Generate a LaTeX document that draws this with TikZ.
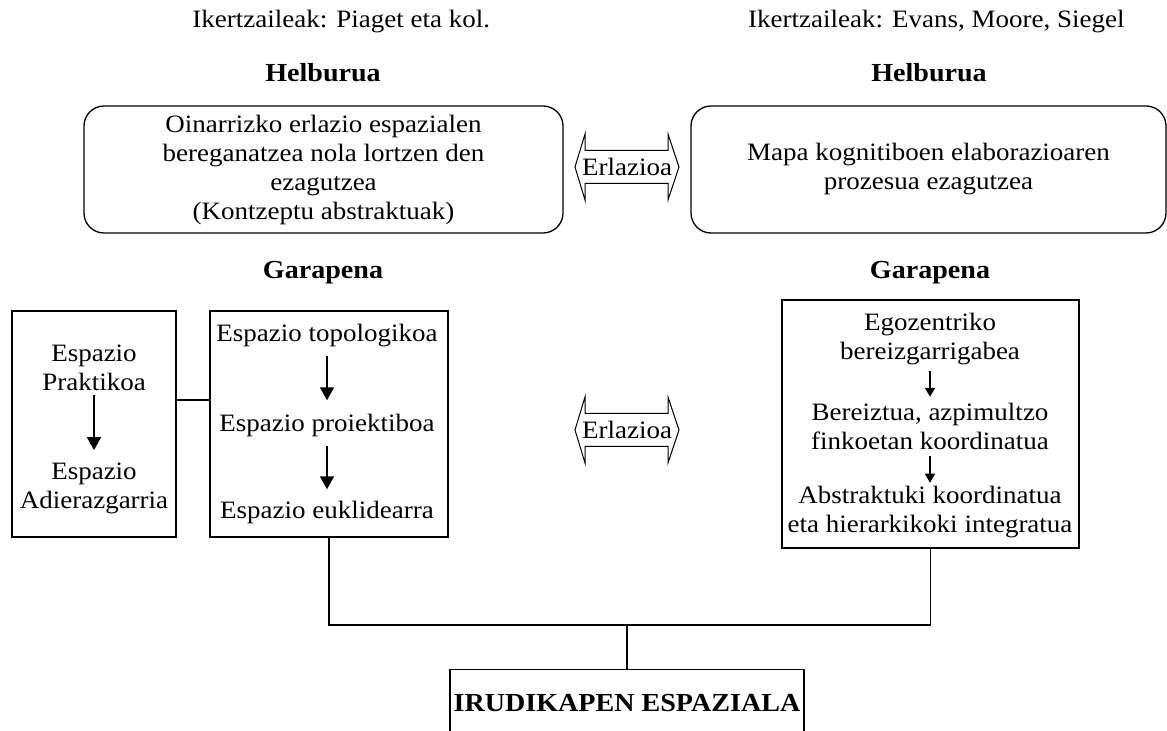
\documentclass[tikz,border=0pt]{standalone}
\usepackage{fontspec}
\setmainfont{Liberation Serif}[FakeStretch=1.08]
\usetikzlibrary{arrows.meta,calc}
\begin{document}
\begin{tikzpicture}[x=0.5pt,y=-0.5pt,
  txt/.style={font=\fontsize{12.5}{14.5}\selectfont, align=center, inner sep=0pt},
  head/.style={font=\fontsize{13}{15}\selectfont\bfseries, inner sep=0pt},
  rbox/.style={draw, line width=0.65pt, rounded corners=10pt, minimum height=63.5pt,
               font=\fontsize{12.5}{14.5}\selectfont, align=center, inner sep=0pt},
  sbox/.style={draw, line width=0.65pt, inner sep=0pt},
  conn/.style={line width=0.65pt},
  relarrow/.style={line width=0.5pt, line join=miter},
  arr/.style={line width=0.9pt, -{Triangle[width=7pt,length=6.5pt]}},
  sarr/.style={line width=0.8pt, -{Triangle[width=5pt,length=4.5pt]}},
]
\useasboundingbox (0,0) rectangle (1167,731);

% researchers
\node[txt, anchor=base west] (t1) at (192,28) {Ikertzaileak: Piaget eta kol.};
\node[txt, anchor=base east] (t2) at (1125,28) {Ikertzaileak: Evans, Moore, Siegel};

% Helburua headings
\node[head, anchor=base] (h1) at (323,82) {Helburua};
\node[head, anchor=base] (h2) at (929,82) {Helburua};

% goal boxes
\node[rbox, minimum width=239.5pt] (g1) at (323.5,169.5)
  {Oinarrizko erlazio espazialen\\bereganatzea nola lortzen den\\ezagutzea\\(Kontzeptu abstraktuak)};
\node[rbox, minimum width=237.5pt] (g2) at (928.5,169.5)
  {Mapa kognitiboen elaborazioaren\\prozesua ezagutzea};

% relation arrow 1
\node[txt] (e1) at (627,167) {Erlazioa};
\draw[relarrow] ($(e1)+(-52,0)$) -- ++(10,-33) -- ++(0,16.5) -- ++(83,0) -- ++(0,-16.5)
  -- ++(11,33) -- ++(-11,33) -- ++(0,-16.5) -- ++(-83,0) -- ++(0,16.5) -- cycle;

% Garapena headings
\node[head, anchor=base] (d1) at (323,279) {Garapena};
\node[head, anchor=base] (d2) at (930,279) {Garapena};

% left development boxes
\node[sbox, minimum width=82pt, minimum height=113pt] (lbox) at (94,424) {};
\node[sbox, minimum width=119pt, minimum height=113pt] (mbox) at (329,424) {};
\node[txt] (p1) at (94,368) {Espazio\\Praktikoa};
\node[txt] (p2) at (94,488) {Espazio\\Adierazgarria};
\draw[arr, shorten <=2pt, shorten >=6pt] (p1.south) -- (p2.north);

\node[txt] (m1) at (327,336) {Espazio topologikoa};
\node[txt] (m2) at (327,425) {Espazio proiektiboa};
\node[txt] (m3) at (327,512) {Espazio euklidearra};
\draw[arr, shorten <=4pt, shorten >=6.5pt] (m1.south) -- (m2.north);
\draw[arr, shorten <=4.5pt, shorten >=5.5pt] (m2.south) -- (m3.north);

\draw[conn] ([yshift=12pt]lbox.east) -- ([yshift=12pt]mbox.west);

% relation arrow 2
\node[txt] (e2) at (627,430) {Erlazioa};
\draw[relarrow] ($(e2)+(-52,0)$) -- ++(10,-33) -- ++(0,16.5) -- ++(83,0) -- ++(0,-16.5)
  -- ++(11,33) -- ++(-11,33) -- ++(0,-16.5) -- ++(-83,0) -- ++(0,16.5) -- cycle;

% right development box
\node[sbox, minimum width=148.5pt, minimum height=124pt] (rbox) at (930.5,424) {};
\node[txt] (r1) at (930,339) {Egozentriko\\bereizgarrigabea};
\node[txt] (r2) at (930,426.5) {Bereiztua, azpimultzo\\finkoetan koordinatua};
\node[txt] (r3) at (930,512) {Abstraktuki koordinatua\\eta hierarkikoki integratua};
\draw[sarr, shorten <=3pt, shorten >=3pt] (r1.south) -- (r2.north);
\draw[sarr, shorten <=3pt, shorten >=1.5pt] (r2.south) -- (r3.north);

% final box
\node[sbox, anchor=north, minimum width=177pt, text height=21pt, text depth=25pt,
      font=\fontsize{13}{15}\selectfont\bfseries] (bbox) at (627,669) {IRUDIKAPEN ESPAZIALA};

% joining connectors
\coordinate (j) at (627,625);
\draw[conn] (mbox.south) |- (j) -| (rbox.south);
\draw[conn] (j) -- (bbox.north);
\end{tikzpicture}
\end{document}
